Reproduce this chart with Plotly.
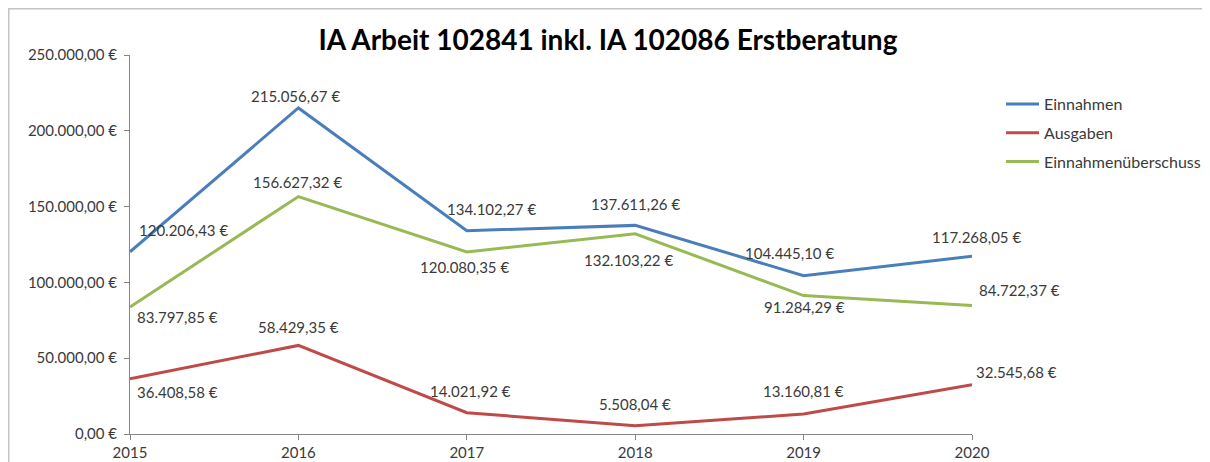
import plotly.graph_objects as go

years = [2015, 2016, 2017, 2018, 2019, 2020]
einnahmen = [120206.43, 215056.67, 134102.27, 137611.26, 104445.10, 117268.05]
ausgaben = [36408.58, 58429.35, 14021.92, 5508.04, 13160.81, 32545.68]
ueberschuss = [83797.85, 156627.32, 120080.35, 132103.22, 91284.29, 84722.37]
y_ticks = [0, 50000, 100000, 150000, 200000, 250000]

# label offsets in pixels (dx, dy) per point
off_ein = [(53, 22), (-3, 12), (25, 22), (0, 21), (-14, 23), (4, 19)]
off_aus = [(47, -13), (0, 18), (4, 22), (0, 22), (0, 23), (44, 13)]
off_ueb = [(47, -10), (-1, 15), (-2, -15), (-7, -26), (1, -11), (47, 16)]


def eur(v):
    s = f"{v:,.2f}"
    s = s.replace(",", "X").replace(".", ",").replace("X", ".")
    return s + " €"


series = [
    ("Einnahmen", einnahmen, "#4A7EBB", off_ein),
    ("Ausgaben", ausgaben, "#BE4B48", off_aus),
    ("Einnahmenüberschuss", ueberschuss, "#98B954", off_ueb),
]

FONT = "Lato"
TXT = "#3A3A3A"
W, H = 1210, 462
L, T, PW, PH = 122, 47, 842, 379

fig = go.Figure()
annotations = []
for name, vals, color, offs in series:
    fig.add_trace(go.Scatter(
        x=years, y=vals, mode="lines", name=name,
        line=dict(color=color, width=3), legendgroup=name,
        hoverinfo="skip",
    ))
    for x, v, (dx, dy) in zip(years, vals, offs):
        annotations.append(dict(
            x=x, y=v, xref="x", yref="y", text=eur(v), showarrow=False,
            xshift=dx, yshift=dy, xanchor="center", yanchor="middle",
            font=dict(family=FONT, size=15, color=TXT),
        ))

fig.update_layout(
    width=W, height=H,
    margin=dict(l=L, r=W - L - PW, t=T, b=H - T - PH, autoexpand=False),
    paper_bgcolor="white", plot_bgcolor="white",
    font=dict(family=FONT, size=15, color=TXT),
    title=dict(
        text="<b>IA Arbeit 102841 inkl. IA 102086 Erstberatung</b>",
        x=600 / W, xref="container", xanchor="center",
        y=1 - 32 / H, yref="container", yanchor="middle",
        font=dict(family=FONT, size=28, color="#000000"),
    ),
    xaxis=dict(
        range=[2015, 2020], tickvals=years, showgrid=False, zeroline=False,
        showline=True, linecolor="#868686", linewidth=1, automargin=False,
        ticks="outside", ticklen=5, tickcolor="#868686",
        tickfont=dict(family=FONT, size=15, color=TXT),
    ),
    yaxis=dict(
        range=[0, 250000], tickvals=y_ticks, ticktext=[eur(t) for t in y_ticks],
        showgrid=False, zeroline=False, automargin=False,
        showline=True, linecolor="#868686", linewidth=1,
        ticks="outside", ticklen=5, tickcolor="#868686", ticklabelstandoff=4,
        tickfont=dict(family=FONT, size=15, color=TXT),
    ),
    legend=dict(
        x=(993 - L) / PW, y=(T + PH - 79) / PH, xanchor="left", yanchor="top",
        tracegroupgap=5, itemwidth=33,
        font=dict(family=FONT, size=16, color=TXT),
        bgcolor="rgba(0,0,0,0)",
    ),
    annotations=annotations,
    showlegend=True,
)

fig.add_shape(
    type="rect", xref="paper", yref="paper",
    x0=(0.75 - L) / PW, x1=1.6, y0=-0.3, y1=1 + (T - 0.75) / PH,
    line=dict(color="#C4C4C4", width=1.5), fillcolor="rgba(0,0,0,0)",
    layer="below",
)

fig.write_html("out.html")
